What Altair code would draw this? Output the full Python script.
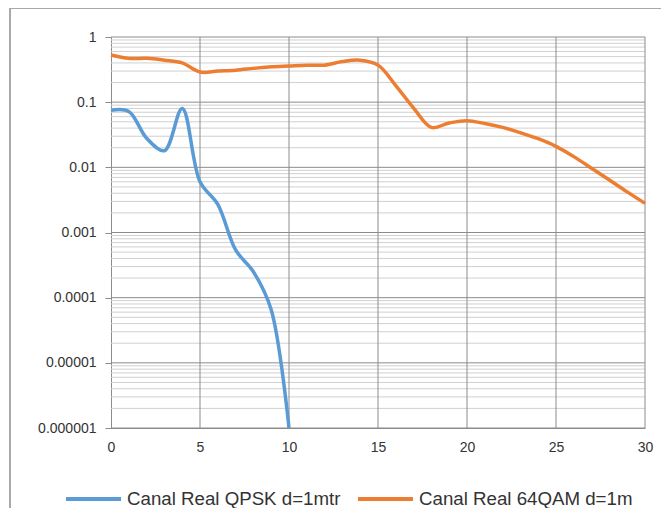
import altair as alt
import pandas as pd

# ---- data ----
x_qpsk = [0, 1, 2, 3, 4, 5, 6, 7, 8, 9, 10]
ber_qpsk = [0.075, 0.072, 0.028, 0.018, 0.08, 0.006, 0.0027, 0.00054, 0.00025, 0.000065, 0.000001]

x_64qam = list(range(0, 31))
ber_64qam = [0.53, 0.47, 0.47, 0.44, 0.40, 0.29, 0.30, 0.31, 0.33, 0.35,
             0.36, 0.37, 0.37, 0.42, 0.44, 0.37, 0.18, 0.081, 0.041, 0.048,
             0.052, 0.047, 0.041, 0.034, 0.0275, 0.021, 0.0146, 0.0097, 0.0064, 0.0042,
             0.0028]

series_names = ["Canal Real QPSK d=1mtr", "Canal Real 64QAM d=1m"]
series_colors = ["#5B9BD5", "#ED7D31"]

x_ticks = [0, 5, 10, 15, 20, 25, 30]
y_major = [1, 0.1, 0.01, 0.001, 0.0001, 0.00001, 0.000001]
y_minor = [m * 10.0 ** k for k in range(-6, 0) for m in range(2, 10)]

# ---- tables ----
df = pd.concat([
    pd.DataFrame({"x": x_qpsk, "ber": ber_qpsk, "series": series_names[0]}),
    pd.DataFrame({"x": x_64qam, "ber": ber_64qam, "series": series_names[1]}),
])
df_major = pd.DataFrame({"ber": y_major})
df_minor = pd.DataFrame({"ber": y_minor})
df_vgrid = pd.DataFrame({"x": x_ticks[1:]})

FONT = "Liberation Sans"
GRID_MAJOR = "#8c8c8c"
GRID_MINOR = "#d0d0d0"
TEXT = "#333333"
FRAME = "#a9a9a9"

xscale = alt.Scale(domain=[0, 30], nice=False, zero=False)
yscale = alt.Scale(type="log", domain=[0.000001, 1], nice=False)

x_axis = alt.Axis(values=x_ticks, grid=False, domain=True, domainColor=GRID_MAJOR,
                  ticks=False, labelPadding=12, labelFont=FONT, labelFontSize=14,
                  labelColor=TEXT, title=None, labelFlush=False, labelOverlap=False)
y_axis = alt.Axis(values=y_major, grid=False, domain=True, domainColor=GRID_MAJOR,
                  ticks=True, tickColor=GRID_MAJOR, tickSize=6, labelPadding=9,
                  labelFont=FONT, labelFontSize=14, labelColor=TEXT, title=None,
                  labelFlush=False, labelOverlap=False,
                  labelExpr="format(datum.value, '.6~f')")

X = alt.X("x:Q", scale=xscale, axis=x_axis)
Y = alt.Y("ber:Q", scale=yscale, axis=y_axis)

minor = alt.Chart(df_minor).mark_rule(color=GRID_MINOR, strokeWidth=1).encode(y=Y)
major = alt.Chart(df_major).mark_rule(color=GRID_MAJOR, strokeWidth=1).encode(y=Y)
vgrid = alt.Chart(df_vgrid).mark_rule(color=GRID_MAJOR, strokeWidth=1).encode(x=X)

lines = alt.Chart(df).mark_line(interpolate="catmull-rom", strokeWidth=3.5).encode(
    x=X,
    y=Y,
    color=alt.Color("series:N",
                    scale=alt.Scale(domain=series_names, range=series_colors),
                    sort=series_names,
                    legend=alt.Legend(title=None, orient="none", direction="horizontal",
                                      legendX=-47, legendY=432,
                                      symbolType="stroke", symbolSize=3025,
                                      symbolStrokeWidth=4, labelFont=FONT, labelFontSize=18.7,
                                      labelColor=TEXT, labelOffset=4,
                                      columnPadding=9, labelLimit=400)),
)

# outer chart-area frame (only its top and left edges fall inside the picture)
one = pd.DataFrame({"a": [0]})
frame_top = alt.Chart(one).mark_rect(color=FRAME).encode(
    x=alt.value(-102), x2=alt.value(560), y=alt.value(-30), y2=alt.value(-28)
)
frame_left = alt.Chart(one).mark_rect(color=FRAME).encode(
    x=alt.value(-102), x2=alt.value(-100), y=alt.value(-30), y2=alt.value(485)
)

chart = alt.layer(frame_top, frame_left, minor, major, vgrid, lines).properties(
    width=534, height=391,
    autosize=alt.AutoSizeParams(type="none"),
    padding={"left": 103, "top": 29, "right": 16, "bottom": 80},
).configure_view(stroke=None)

chart.save("out.html", embed_options={"renderer": "svg", "actions": False})
